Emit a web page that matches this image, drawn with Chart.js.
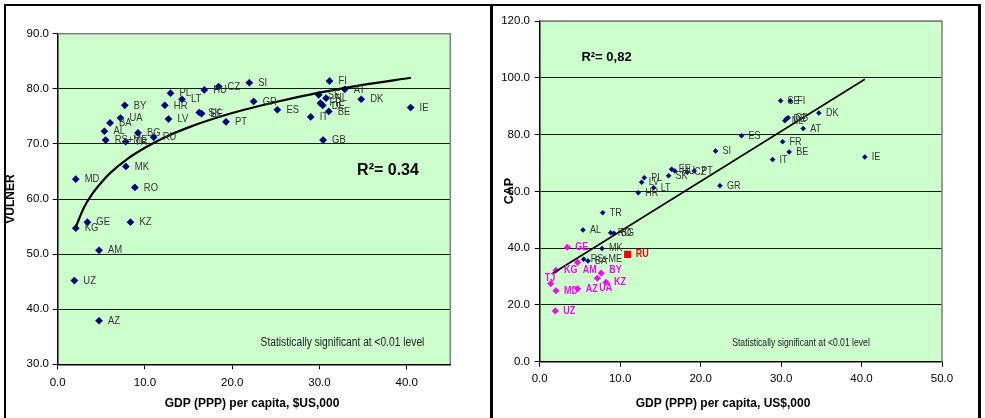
<!DOCTYPE html>
<html>
<head>
<meta charset="utf-8">
<script src="https://cdn.jsdelivr.net/npm/chart.js@4"></script>
<style>
  body { margin: 0; background: #fff; width: 985px; height: 418px; overflow: hidden; position: relative; }
  canvas { position: absolute; top: 0; }
  #c1 { left: 0; }
  #c2 { left: 490px; }
  #frame { position: absolute; left: 4px; top: 4px; width: 972px; height: 440px;
           border: 2px solid #000; border-right-width: 3px; z-index: 2; pointer-events: none; }
  #divider { position: absolute; left: 490px; top: 4px; width: 3px; height: 420px; background: #000; z-index: 2; }
</style>
</head>
<body>
<canvas id="c1" width="490" height="418"></canvas>
<canvas id="c2" width="495" height="418"></canvas>
<div id="frame"></div>
<div id="divider"></div>
<script>
// ---- left chart: VULNER vs GDP ----
const vulNames = ['MD','BY','UA','BA','AL','RS+ME','TR','BG','RU','MK','RO',
                  'KG','GE','KZ','AM','UZ','AZ',
                  'HR','PL','LT','LV','HU','CZ','SK','EE','PT',
                  'SI','GR','ES','IT','GB','SE','NL','FR','DE','BE','FI','AT','DK','IE'];
const vulGdp   = [2.07,7.69,7.19,6.0,5.35,5.5,7.8,9.2,11.0,7.81,8.84,
                  2.07,3.40,8.34,4.74,1.91,4.74,
                  12.28,12.93,14.24,12.70,16.8,18.44,16.22,16.49,19.29,
                  21.96,22.46,25.18,29.0,30.42,29.92,30.76,30.11,30.38,31.07,31.15,32.9,34.79,40.45];
const vulVal   = [63.6,77.0,74.7,73.8,72.3,70.7,70.4,72.0,71.2,65.9,62.1,
                  54.7,55.8,55.8,50.7,45.2,37.9,
                  77.0,79.2,78.1,74.5,79.8,80.4,75.7,75.5,74.0,
                  81.1,77.7,76.2,74.9,70.7,78.9,78.3,77.4,77.0,75.9,81.4,79.9,78.1,76.6];
// log trend line
const vulTrendX = [2.0,3,4,5,6,8,10,12,15,20,25,30,35,40.5];
const vulTrendY = [54.6,58.4,61.0,63.0,64.7,67.3,69.3,71.0,73.0,75.6,77.6,79.3,80.7,82.0];

// ---- right chart: CAP vs GDP ----
const capNames = ['SI','GR','HR','LV','PL','LT','SK','EE','HU','CZ',
                  'PT','ES','SE','FI','NL','DE','GB','DK','AT','FR',
                  'BE','IT','IE','TR','AL','RO','BG','MK','RS+ME','BA'];
const capGdp   = [21.86,22.4,12.25,12.67,13.0,14.16,16.02,16.4,16.8,18.34,
                  19.2,25.09,29.94,31.13,30.47,30.68,30.88,34.7,32.75,30.19,
                  31.0,28.94,40.41,7.83,5.38,8.82,9.23,7.74,5.47,6.0];
const capVal   = [74.2,62.0,59.5,63.2,64.8,61.3,65.5,67.8,67.2,66.7,
                  67.2,79.6,91.9,91.9,84.9,85.6,85.9,87.6,82.1,77.5,
                  73.9,71.2,72.1,52.5,46.4,45.4,45.2,39.9,36.1,35.5];
const cisNames = ['GE','AM','KG','TJ','MD','AZ','UA','BY','KZ','UZ'];
const cisGdp   = [3.43,4.72,2.02,1.37,2.02,4.72,7.16,7.65,8.24,1.94];
const cisVal   = [40.3,35.0,32.2,27.5,25.0,25.7,29.4,31.2,28.0,17.9];
const ruNames  = ['RU'];
const ruGdp    = [10.93];
const ruVal    = [37.8];
const capTrendX = [1.49, 40.41];
const capTrendY = [30.9, 99.5];

const pts = (xs, ys) => xs.map((x, i) => ({ x, y: ys[i] }));

const SANS = '"Liberation Sans", Arial, sans-serif';
function hasFont(name) {
  const c = document.createElement('canvas').getContext('2d');
  c.font = '20px monospace';
  const w1 = c.measureText('abcdefghijklmn').width;
  c.font = `20px "${name}", monospace`;
  return c.measureText('abcdefghijklmn').width !== w1;
}
const narrowOk = hasFont('Liberation Sans Narrow');

function text(ctx, str, x, y, o) {
  ctx.save();
  ctx.fillStyle = o.color || '#333';
  ctx.textBaseline = 'middle';
  ctx.textAlign = o.align || 'left';
  const w = o.bold ? 'bold ' : '';
  ctx.translate(x, y);
  if (o.rotate) ctx.rotate(-Math.PI / 2);
  if (o.narrow && narrowOk) {
    ctx.font = `${w}${o.size}px "Liberation Sans Narrow"`;
  } else {
    if (o.narrow) ctx.scale(0.82, 1);
    ctx.font = `${w}${o.size}px ${SANS}`;
  }
  ctx.fillText(str, 0, 0);
  ctx.restore();
}

// green plot area with grey top/right edge
const plotBg = {
  id: 'plotBg',
  beforeDraw(chart) {
    const { ctx, chartArea: a } = chart;
    ctx.save();
    ctx.fillStyle = '#ccffcc';
    ctx.fillRect(a.left, a.top, a.width, a.height);
    ctx.restore();
  },
  beforeDatasetsDraw(chart) {
    const { ctx, chartArea: a } = chart;
    ctx.save();
    ctx.strokeStyle = '#808080';
    ctx.lineWidth = 1.5;
    ctx.beginPath();
    ctx.moveTo(a.left, a.top);
    ctx.lineTo(a.right, a.top);
    ctx.lineTo(a.right, a.bottom);
    ctx.stroke();
    ctx.restore();
  }
};

// point labels + free texts
const notes = {
  id: 'notes',
  afterDatasetsDraw(chart, args, opts) {
    const ctx = chart.ctx;
    chart.data.datasets.forEach((ds, di) => {
      if (!ds.names) return;
      chart.getDatasetMeta(di).data.forEach((el, i) => {
        const nm = ds.names[i];
        const n = (opts.nudge && opts.nudge[nm]) || [0, 0];
        text(ctx, nm, el.x + ds.labelGap + n[0], el.y + n[1], ds.labelFont);
      });
    });
    (opts.items || []).forEach(t => text(ctx, t.str, t.x, t.y, t));
  }
};

function axes(xmax, ymin, ymax, ystep, yw, xh, xpad, ypad) {
  const tickFont = { family: SANS, size: 11.5 };
  return {
    x: {
      type: 'linear', min: 0, max: xmax,
      ticks: { stepSize: 10, includeBounds: false, color: '#000', font: tickFont, padding: xpad,
               callback: v => v.toFixed(1) },
      grid: { drawOnChartArea: false, drawTicks: true, tickLength: 5, tickColor: '#000' },
      border: { display: true, color: '#000', width: 1.5 },
      afterFit: s => { s.height = xh; }
    },
    y: {
      type: 'linear', min: ymin, max: ymax,
      ticks: { stepSize: ystep, color: '#000', font: tickFont, padding: ypad,
               callback: v => v.toFixed(1) },
      grid: { color: c => (c.tick && c.tick.value === ymax) ? '#808080' : '#1a1a1a',
              lineWidth: 1, tickLength: 5, tickColor: '#000' },
      border: { display: true, color: '#000', width: 1.5 },
      afterFit: s => { s.width = yw; }
    }
  };
}

const base = {
  responsive: false,
  animation: false,
  devicePixelRatio: 1,
  plugins: { legend: { display: false }, tooltip: { enabled: false } }
};

new Chart(document.getElementById('c1'), {
  type: 'scatter',
  data: {
    datasets: [
      { type: 'line', data: pts(vulTrendX, vulTrendY), borderColor: '#000', borderWidth: 2.2,
        pointRadius: 0, fill: false, cubicInterpolationMode: 'monotone' },
      { data: pts(vulGdp, vulVal), names: vulNames, labelGap: 9,
        labelFont: { size: 11.5, narrow: true, color: '#333' },
        pointStyle: 'rectRot', pointRadius: 3.6, pointBackgroundColor: '#000080',
        pointBorderColor: '#000080', pointBorderWidth: 0.5 }
    ]
  },
  options: {
    ...base,
    layout: { padding: { top: 33.7, right: 39.7, left: 0, bottom: 0 } },
    scales: axes(45, 30, 90, 10, 57.7, 53.7, 6.5, 3.7),
    plugins: {
      ...base.plugins,
      notes: {
        items: [
          { str: 'R²= 0.34', x: 388, y: 171, size: 16, bold: true, color: '#000', align: 'center' },
          { str: 'Statistically significant at <0.01 level', x: 342.5, y: 343, size: 12.5, narrow: true, color: '#222', align: 'center' },
          { str: 'GDP (PPP) per capita, $US,000', x: 252, y: 403.5, size: 12, bold: true, color: '#000', align: 'center' },
          { str: 'VULNER', x: 11, y: 199, size: 12, bold: true, color: '#000', align: 'center', rotate: true }
        ]
      }
    }
  },
  plugins: [plotBg, notes]
});

new Chart(document.getElementById('c2'), {
  type: 'scatter',
  data: {
    datasets: [
      { type: 'line', data: pts(capTrendX, capTrendY), borderColor: '#000', borderWidth: 1.6,
        pointRadius: 0, fill: false },
      { data: pts(ruGdp, ruVal), names: ruNames, labelGap: 8,
        labelFont: { size: 11, bold: true, narrow: true, color: '#ff0000' },
        pointStyle: 'rect', pointRadius: 5, pointBackgroundColor: '#ff0000', pointBorderColor: '#ff0000', pointBorderWidth: 0 },
      { data: pts(cisGdp, cisVal), names: cisNames, labelGap: 8,
        labelFont: { size: 11, bold: true, narrow: true, color: '#ff00ff' },
        pointStyle: 'rectRot', pointRadius: 3.3, pointBackgroundColor: '#ff00ff', pointBorderColor: '#ff00ff', pointBorderWidth: 0.5 },
      { data: pts(capGdp, capVal), names: capNames, labelGap: 7,
        labelFont: { size: 11, narrow: true, color: '#333' },
        pointStyle: 'rectRot', pointRadius: 2.5, pointBackgroundColor: '#000080', pointBorderColor: '#000080', pointBorderWidth: 0.5 }
    ]
  },
  options: {
    ...base,
    layout: { padding: { top: 21, right: 43, left: 0, bottom: 0 } },
    scales: axes(50, 0, 120, 20, 49.7, 56.3, 5.2, 4.7),
    plugins: {
      ...base.plugins,
      notes: {
        nudge: { AM: [-3, 8], UA: [-6, 10], TJ: [-14, -6], BY: [0, -3] },
        items: [
          { str: 'R²= 0,82', x: 116.5, y: 57, size: 13, bold: true, color: '#000', align: 'center' },
          { str: 'Statistically significant at <0.01 level', x: 311, y: 343, size: 10.5, narrow: true, color: '#222', align: 'center' },
          { str: 'GDP (PPP) per capita, US$,000', x: 233, y: 403.5, size: 12, bold: true, color: '#000', align: 'center' },
          { str: 'CAP', x: 20, y: 191, size: 12.5, bold: true, color: '#000', align: 'center', rotate: true }
        ]
      }
    }
  },
  plugins: [plotBg, notes]
});
</script>
</body>
</html>
